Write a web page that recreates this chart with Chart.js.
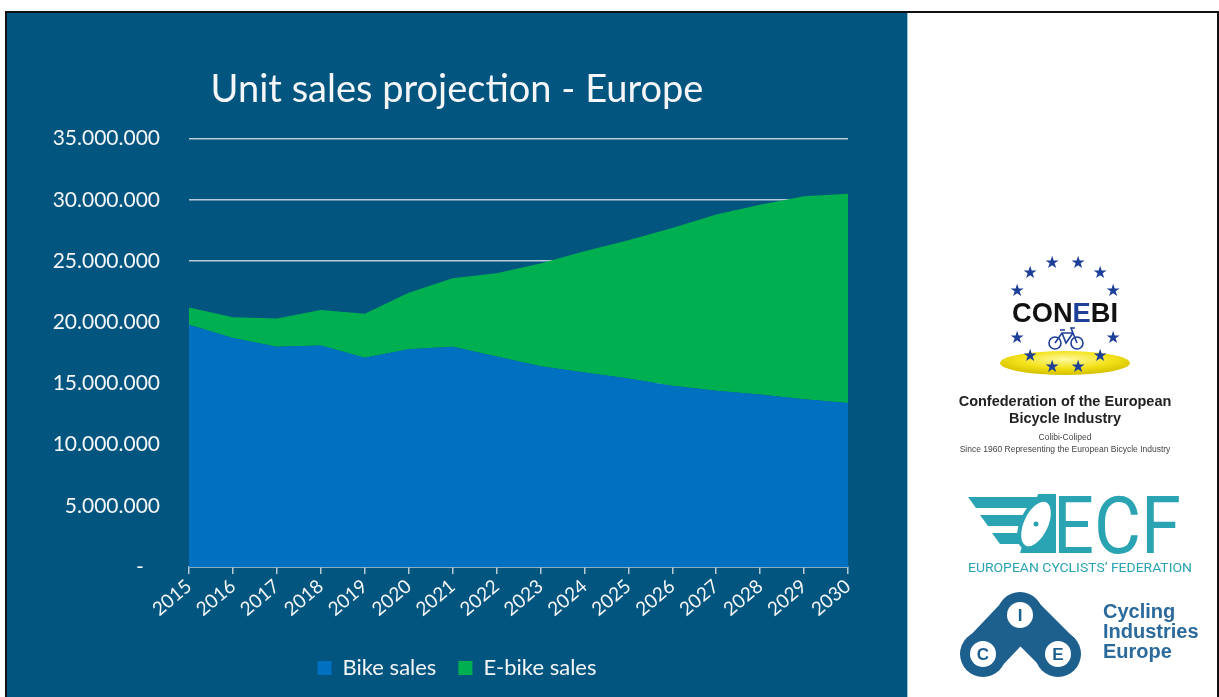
<!DOCTYPE html>
<html>
<head>
<meta charset="utf-8">
<script src="https://cdn.jsdelivr.net/npm/chart.js@4.4.1/dist/chart.umd.min.js"></script>
<style>
  html, body { margin: 0; padding: 0; background: #fff; width: 1219px; height: 697px; overflow: hidden; }
  .frame { position: absolute; left: 5px; top: 11px; width: 1210px; height: 690px; border: 2px solid #111; border-bottom: none; }
  .slide { position: absolute; left: 7px; top: 13px; width: 900px; height: 684px; background: #02557f; }
  .side { position: absolute; left: 907px; top: 13px; width: 308px; height: 684px; background: #fff; border-left: 1px solid #9cc3dc; }
  .abs { position: absolute; }
  .star { position: absolute; color: #1e3f97; font: 17px "DejaVu Sans"; line-height: 1; transform: translate(-50%, -50%); }
  .conf { position: absolute; left: 930px; width: 270px; text-align: center; color: #222; font-family: "Liberation Sans"; }
</style>
</head>
<body>
<div class="frame"></div>
<div class="slide">
  <canvas id="chart" width="900" height="684"></canvas>
</div>
<div class="side"></div>

<!-- CONEBI logo -->
<svg class="abs" style="left:0;top:0" width="1219" height="697">
  <defs>
    <radialGradient id="yel" cx="0.5" cy="0.35" r="0.6">
      <stop offset="0" stop-color="#fff9a0"/>
      <stop offset="0.6" stop-color="#f3e21a"/>
      <stop offset="1" stop-color="#d8c400"/>
    </radialGradient>
  </defs>
  <ellipse cx="1065" cy="363" rx="65" ry="12" fill="url(#yel)"/>
  <g stroke="#1e3f97" stroke-width="1.6" fill="none">
    <circle cx="1055" cy="343" r="6"/>
    <circle cx="1077" cy="343" r="6"/>
    <path d="M1055 343 L1062 333 L1073 333 L1077 343 M1062 333 L1066 343 L1073 333 M1060 330 L1065 330 M1073 333 L1071 328 L1075 328"/>
  </g>
  <text x="1065" y="322" text-anchor="middle" font-family="Liberation Sans" font-weight="bold" font-size="27" fill="#111" textLength="106" lengthAdjust="spacingAndGlyphs">CON<tspan fill="#1e3f97">E</tspan>BI</text>

  <!-- ECF logo -->
  <g fill="#2aa3b3">
    <polygon points="968,497 1040,497 1036,508 976,508"/>
    <polygon points="980,515 1033,515 1029,526 988,526"/>
    <polygon points="992,533 1027,533 1024,544 1000,544"/>
    <polygon points="1038,494 1056,494 1056,553 1020,553"/>
  </g>
  <ellipse cx="1036" cy="524" rx="14" ry="26" transform="rotate(25 1036 524)" fill="#fff" stroke="#2aa3b3" stroke-width="4"/>
  <circle cx="1036" cy="524" r="2.5" fill="#2aa3b3"/>
  <text x="1053" y="553" font-family="Roboto" font-size="80" fill="#2aa3b3" textLength="128" lengthAdjust="spacingAndGlyphs">ECF</text>
  <text x="968" y="572" font-family="Roboto" font-size="13.5" fill="#2aa3b3" textLength="224" lengthAdjust="spacingAndGlyphs">EUROPEAN CYCLISTS’ FEDERATION</text>

  <!-- CIE logo -->
  <g fill="#1d5f8d">
    <polygon points="966,640 1004,600 1036,630 1000,668"/>
    <polygon points="1004,630 1036,600 1076,640 1042,668"/>
    <circle cx="983" cy="654" r="23"/>
    <circle cx="1020" cy="615" r="23"/>
    <circle cx="1058" cy="654" r="23"/>
  </g>
  <g fill="#fff">
    <circle cx="983" cy="654" r="13"/>
    <circle cx="1020" cy="615" r="13"/>
    <circle cx="1058" cy="654" r="13"/>
  </g>
  <g font-family="Liberation Sans" font-weight="bold" font-size="17" fill="#1d5f8d" text-anchor="middle">
    <text x="983" y="660">C</text>
    <text x="1020" y="621">I</text>
    <text x="1058" y="660">E</text>
  </g>
  <g font-family="Liberation Sans" font-weight="bold" font-size="20" fill="#2b6a9b">
    <text x="1103" y="618">Cycling</text>
    <text x="1103" y="638">Industries</text>
    <text x="1103" y="658">Europe</text>
  </g>
</svg>
<div id="stars"></div>
<div class="conf" style="top:393px;font-weight:bold;font-size:14.5px;line-height:17px;">Confederation of the European<br>Bicycle Industry</div>
<div class="conf" style="top:431px;font-size:8.5px;line-height:12px;color:#444;">Colibi-Coliped<br>Since 1960 Representing the European Bicycle Industry</div>

<script>
// chart data
const years = ['2015', '2016', '2017', '2018', '2019', '2020', '2021', '2022',
  '2023', '2024', '2025', '2026', '2027', '2028', '2029', '2030'];
const bikeSales = [19800000, 18700000, 18000000, 18100000, 17100000, 17800000, 18000000, 17200000,
  16400000, 15900000, 15400000, 14800000, 14400000, 14100000, 13700000, 13400000];
const ebikeSales = [1400000, 1700000, 2300000, 2900000, 3600000, 4600000, 5600000, 6800000,
  8400000, 9900000, 11300000, 12900000, 14400000, 15500000, 16600000, 17100000];
const yMax = 35000000;
const yStep = 5000000;

// stars round the CONEBI name
const starPos = [[1052, 262], [1078, 262], [1030, 272], [1100, 272], [1017, 290], [1113, 290],
  [1017, 337], [1113, 337], [1030, 355], [1100, 355], [1052, 366], [1078, 366]];
const starBox = document.getElementById('stars');
starPos.forEach(p => {
  const s = document.createElement('div');
  s.className = 'star';
  s.textContent = '★';
  s.style.left = p[0] + 'px';
  s.style.top = p[1] + 'px';
  starBox.appendChild(s);
});

function formatDots(v) {
  if (v === 0) return '-   ';
  return String(v).replace(/\B(?=(\d{3})+(?!\d))/g, '.');
}

const txt = '#f4f6f8';
const gridCol = '#b9cad8';

const ctx = document.getElementById('chart').getContext('2d');
new Chart(ctx, {
  type: 'line',
  data: {
    labels: years,
    datasets: [{
      label: 'Bike sales',
      data: bikeSales,
      backgroundColor: '#0070c0',
      borderColor: '#0070c0',
      borderWidth: 0,
      pointRadius: 0,
      fill: 'origin'
    }, {
      label: 'E-bike sales',
      data: ebikeSales,
      backgroundColor: '#00b050',
      borderColor: '#00b050',
      borderWidth: 0,
      pointRadius: 0,
      fill: '-1'
    }]
  },
  options: {
    responsive: false,
    animation: false,
    layout: { padding: { left: 0, right: 0, top: 0, bottom: 8 } },
    scales: {
      x: {
        offset: false,
        afterFit: s => { s.height = 68; },
        grid: { drawOnChartArea: false, drawTicks: true, tickLength: 7, color: gridCol, lineWidth: 1.5 },
        border: { display: true, color: gridCol, width: 1.5 },
        ticks: { color: txt, font: { family: 'Lato', size: 19 }, minRotation: 40, maxRotation: 40, padding: 1, autoSkip: false }
      },
      y: {
        stacked: true,
        min: 0,
        max: yMax,
        afterFit: s => { s.width = 182; },
        grid: { color: gridCol, lineWidth: 1.5, drawTicks: false },
        border: { display: false },
        ticks: { stepSize: yStep, color: txt, font: { family: 'Lato', size: 21 }, padding: 29, callback: v => formatDots(v) }
      },
      // empty right-hand axis that only reserves the slide's right margin
      yRight: {
        position: 'right',
        display: true,
        afterFit: s => { s.width = 59; },
        grid: { drawOnChartArea: false, drawTicks: false },
        border: { display: false },
        ticks: { display: false }
      }
    },
    plugins: {
      title: {
        display: true,
        text: 'Unit sales projection - Europe',
        color: txt,
        font: { family: 'Lato', size: 38, weight: 'normal' },
        padding: { top: 54, bottom: 26 }
      },
      legend: {
        position: 'bottom',
        labels: { color: txt, font: { family: 'Lato', size: 22 }, boxWidth: 14, boxHeight: 14, padding: 22 }
      },
      tooltip: { enabled: false }
    }
  }
});
</script>
</body>
</html>
